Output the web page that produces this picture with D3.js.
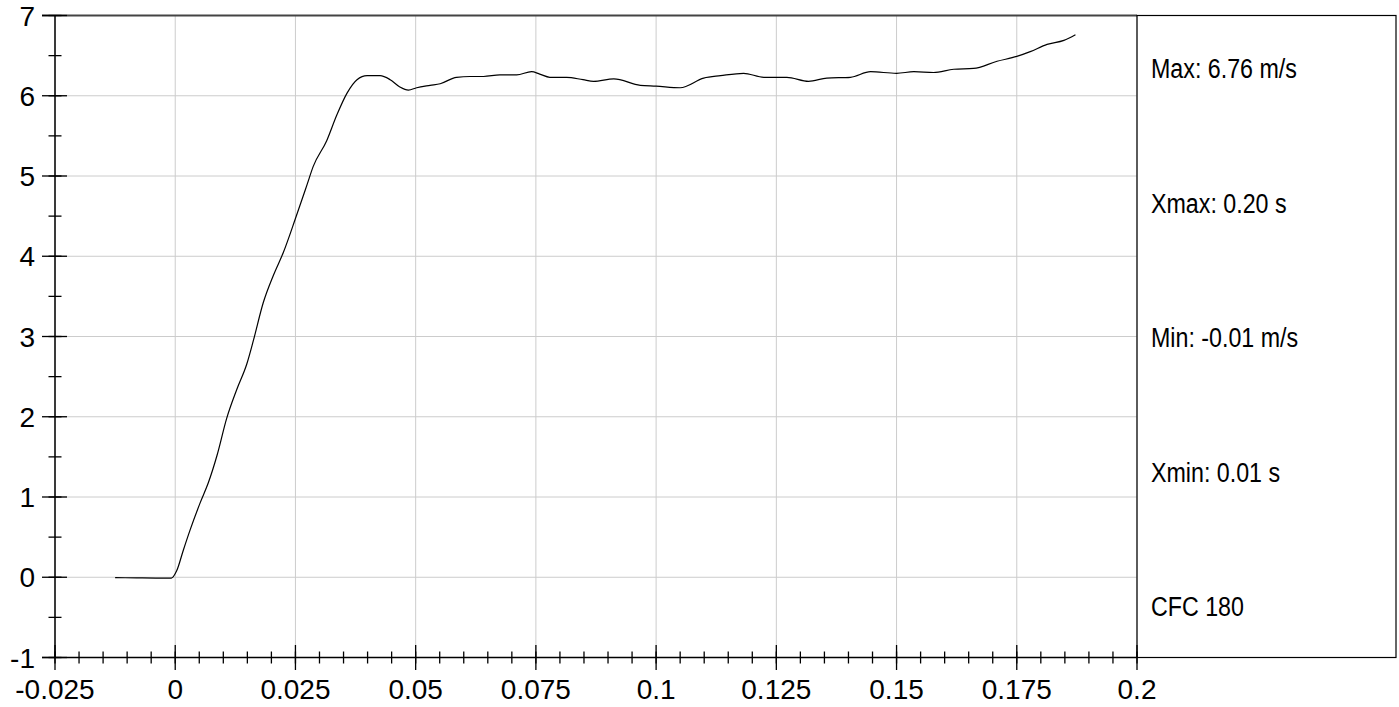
<!DOCTYPE html>
<html>
<head>
<meta charset="utf-8">
<script src="https://cdn.jsdelivr.net/npm/d3@7"></script>
<style>
  html, body { margin: 0; padding: 0; background: #fff; }
  svg { display: block; }
  .tick-label { font-family: "Liberation Sans", Arial, sans-serif; font-size: 28px; fill: #000; }
  .info { font-family: "Liberation Sans", Arial, sans-serif; font-size: 28px; fill: #000; }
</style>
</head>
<body>
<svg id="chart" width="1399" height="707"></svg>
<script>
// ---- data ----
const timeS = [-0.0125, -0.008, -0.004, -0.0008, 0.0003, 0.0017, 0.0031, 0.0052, 0.0069, 0.0087, 0.0107, 0.0128, 0.0149, 0.0163, 0.0183, 0.0204, 0.0225, 0.025, 0.0274, 0.0287, 0.0315, 0.0336, 0.0357, 0.0378, 0.0399, 0.0426, 0.0447, 0.0467, 0.0485, 0.0502, 0.053, 0.0551, 0.0585, 0.0613, 0.0641, 0.0675, 0.071, 0.0741, 0.0758, 0.0779, 0.0814, 0.0848, 0.087, 0.0912, 0.0967, 0.1, 0.105, 0.1099, 0.1134, 0.1182, 0.1224, 0.1272, 0.1317, 0.1355, 0.1404, 0.1446, 0.15, 0.1536, 0.1577, 0.1619, 0.166, 0.1709, 0.175, 0.1778, 0.1813, 0.1848, 0.1872];
const velocity = [-0.005, -0.008, -0.01, -0.01, 0.08, 0.34, 0.59, 0.93, 1.18, 1.52, 1.98, 2.34, 2.66, 2.96, 3.42, 3.76, 4.05, 4.47, 4.89, 5.12, 5.44, 5.76, 6.03, 6.20, 6.25, 6.25, 6.20, 6.11, 6.07, 6.10, 6.13, 6.15, 6.23, 6.24, 6.24, 6.26, 6.26, 6.30, 6.27, 6.23, 6.23, 6.20, 6.18, 6.21, 6.13, 6.12, 6.10, 6.22, 6.25, 6.28, 6.23, 6.23, 6.18, 6.22, 6.23, 6.30, 6.28, 6.30, 6.29, 6.33, 6.34, 6.43, 6.49, 6.55, 6.64, 6.69, 6.76];
const xTickValues = [-0.025, 0, 0.025, 0.05, 0.075, 0.1, 0.125, 0.15, 0.175, 0.2];
const xTickLabels = ["-0.025", "0", "0.025", "0.05", "0.075", "0.1", "0.125", "0.15", "0.175", "0.2"];
const xMinorTicks = d3.range(-25, 201, 5).map(v => v / 1000);
const yTickValues = [-1, 0, 1, 2, 3, 4, 5, 6, 7];
const yTickLabels = ["-1", "0", "1", "2", "3", "4", "5", "6", "7"];
const yMinorTicks = d3.range(-1, 7.01, 0.5);
const infoLines = ["Max: 6.76 m/s", "Xmax: 0.20 s", "Min: -0.01 m/s", "Xmin: 0.01 s", "CFC 180"];

// ---- layout ----
const L = 55, R = 1137, T = 15.5, B = 657.5, PR = 1396;
const svg = d3.select("#chart");
const x = d3.scaleLinear().domain([-0.025, 0.2]).range([L, R]);
const y = d3.scaleLinear().domain([-1, 7]).range([B, T]);

// grid
const grid = svg.append("g");
grid.selectAll("line.v").data(xTickValues).join("line")
  .attr("x1", d => x(d)).attr("x2", d => x(d)).attr("y1", T).attr("y2", B)
  .attr("stroke", "#cccccc").attr("stroke-width", 1);
grid.selectAll("line.h").data(yTickValues).join("line")
  .attr("x1", L).attr("x2", R).attr("y1", d => y(d)).attr("y2", d => y(d))
  .attr("stroke", "#cccccc").attr("stroke-width", 1);

// curve
const line = d3.line().x(d => x(d[0])).y(d => y(d[1])).curve(d3.curveMonotoneX);
svg.append("path").datum(timeS.map((t, i) => [t, velocity[i]]))
  .attr("d", line).attr("fill", "none").attr("stroke", "#000").attr("stroke-width", 1.2);

// frame
svg.append("line").attr("x1", 42).attr("x2", R).attr("y1", T).attr("y2", T)
  .attr("stroke", "#444").attr("stroke-width", 2);
svg.append("rect").attr("x", R).attr("y", T).attr("width", PR - R).attr("height", B - T)
  .attr("fill", "none").attr("stroke", "#000").attr("stroke-width", 1.2);

// y axis
const yAx = svg.append("g");
yAx.append("line").attr("x1", L).attr("x2", L).attr("y1", T).attr("y2", B).attr("stroke", "#000").attr("stroke-width", 1.5);
yAx.selectAll("line.minor").data(yMinorTicks).join("line")
  .attr("x1", L - 6.5).attr("x2", L + 6.5).attr("y1", d => y(d)).attr("y2", d => y(d))
  .attr("stroke", "#000").attr("stroke-width", 1.3);
yAx.selectAll("line.major").data(yTickValues).join("line")
  .attr("x1", L - 13).attr("x2", L + 12).attr("y1", d => y(d)).attr("y2", d => y(d))
  .attr("stroke", "#000").attr("stroke-width", 1.3);
yAx.selectAll("text").data(yTickValues).join("text")
  .attr("class", "tick-label").attr("x", 35).attr("y", d => y(d)).attr("dy", "0.36em")
  .attr("text-anchor", "end").text((d, i) => yTickLabels[i]);

// x axis
const xAx = svg.append("g");
xAx.append("line").attr("x1", 42).attr("x2", R).attr("y1", B).attr("y2", B).attr("stroke", "#000").attr("stroke-width", 1.5);
xAx.selectAll("line.minor").data(xMinorTicks).join("line")
  .attr("x1", d => x(d)).attr("x2", d => x(d)).attr("y1", B - 6).attr("y2", B + 6)
  .attr("stroke", "#000").attr("stroke-width", 1.3);
xAx.selectAll("line.major").data(xTickValues).join("line")
  .attr("x1", d => x(d)).attr("x2", d => x(d)).attr("y1", B - 12.5).attr("y2", B + 12.5)
  .attr("stroke", "#000").attr("stroke-width", 1.3);
xAx.selectAll("text").data(xTickValues).join("text")
  .attr("class", "tick-label").attr("x", d => x(d)).attr("y", 699)
  .attr("text-anchor", "middle").text((d, i) => xTickLabels[i]);

// info panel (condensed, like Arial Narrow)
svg.append("g").selectAll("text").data(infoLines).join("text")
  .attr("class", "info")
  .attr("transform", (d, i) => `translate(1151, ${78 + i * 134.5}) scale(0.83, 1)`)
  .text(d => d);
</script>
</body>
</html>
